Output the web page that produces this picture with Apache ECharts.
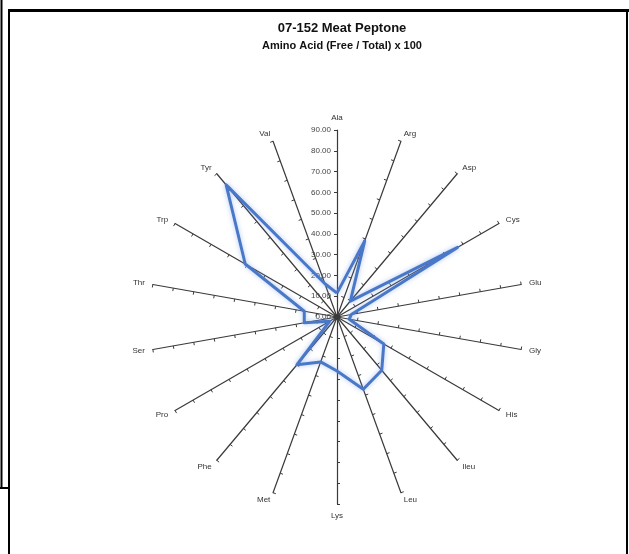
<!DOCTYPE html>
<html>
<head>
<meta charset="utf-8">
<script src="https://cdn.jsdelivr.net/npm/echarts@6/dist/echarts.min.js"></script>
<style>
  html, body { margin: 0; padding: 0; background: #fff; }
  #chart-container { width: 629px; height: 554px; }
</style>
</head>
<body>
<div id="chart-container"></div>
<script>
// amino acids, clockwise from the top
var aminoAcids = ["Ala", "Arg", "Asp", "Cys", "Glu", "Gly", "His", "Ileu", "Leu",
  "Lys", "Met", "Phe", "Pro", "Ser", "Thr", "Trp", "Tyr", "Val"];
var freeTotalRatio = [11.5, 39, 10, 67, 7, 6, 26, 33.5, 37,
  26, 23, 30, 4, 16, 16, 51, 83, 17];
var axisMax = 90;
var axisStep = 10;

// echarts draws radar axes counter-clockwise, so keep Ala first and flip the rest
var order = [0];
for (var i = aminoAcids.length - 1; i > 0; i--) order.push(i);

var dom = document.getElementById("chart-container");
var myChart = echarts.init(dom, null, { renderer: "canvas" });

var cx = 337, cy = 317, rad = 187;

var option = {
  animation: false,
  backgroundColor: "#fff",
  title: [
    {
      text: "07-152 Meat Peptone",
      left: 337, top: 17, textAlign: "center",
      textStyle: { fontFamily: "Liberation Sans", fontSize: 13, fontWeight: "bold", color: "#111" }
    },
    {
      text: "Amino Acid (Free / Total) x 100",
      left: 337, top: 35, textAlign: "center",
      textStyle: { fontFamily: "Liberation Sans", fontSize: 11, fontWeight: "bold", color: "#111" }
    }
  ],
  radar: {
    center: [cx, cy],
    radius: rad,
    startAngle: 90,
    splitNumber: axisMax / axisStep,
    indicator: order.map(function (k) {
      return { name: aminoAcids[k], min: 0, max: axisMax };
    }),
    nameGap: 8,
    axisName: { color: "#333", fontSize: 8, fontFamily: "Liberation Sans" },
    axisLine: { lineStyle: { color: "#3a3a3a", width: 1.2 } },
    axisTick: { show: true, length: 3, lineStyle: { color: "#3a3a3a" } },
    splitLine: { show: false },
    splitArea: { show: false }
  },
  // polar overlay only to print the value scale along the Ala axis
  polar: { center: [cx, cy], radius: rad },
  angleAxis: { show: false, startAngle: 90, min: 0, max: 360 },
  radiusAxis: {
    min: 0, max: axisMax, interval: axisStep,
    axisLine: { show: false },
    axisTick: { show: false },
    splitLine: { show: false },
    axisLabel: {
      show: true, margin: 6, fontSize: 8, color: "#444", fontFamily: "Liberation Sans",
      formatter: function (v) { return v.toFixed(2); }
    }
  },
  series: [
    {
      type: "radar",
      symbol: "none",
      lineStyle: {
        color: "#4a78c8", width: 3,
        shadowBlur: 5, shadowColor: "rgba(110,150,225,0.55)"
      },
      data: [
        { value: order.map(function (k) { return freeTotalRatio[k]; }), name: "Free / Total" }
      ]
    }
  ],
  graphic: [
    { type: "line", shape: { x1: 1.5, y1: 0, x2: 1.5, y2: 489 }, style: { stroke: "#000", lineWidth: 2 } },
    { type: "line", shape: { x1: 0, y1: 488, x2: 9, y2: 488 }, style: { stroke: "#000", lineWidth: 2 } },
    { type: "line", shape: { x1: 8, y1: 10.5, x2: 629, y2: 10.5 }, style: { stroke: "#000", lineWidth: 3 } },
    { type: "line", shape: { x1: 9, y1: 9, x2: 9, y2: 554 }, style: { stroke: "#000", lineWidth: 2 } },
    { type: "line", shape: { x1: 627, y1: 9, x2: 627, y2: 554 }, style: { stroke: "#000", lineWidth: 2 } }
  ]
};

myChart.setOption(option);
window.addEventListener("resize", myChart.resize);
</script>
</body>
</html>
